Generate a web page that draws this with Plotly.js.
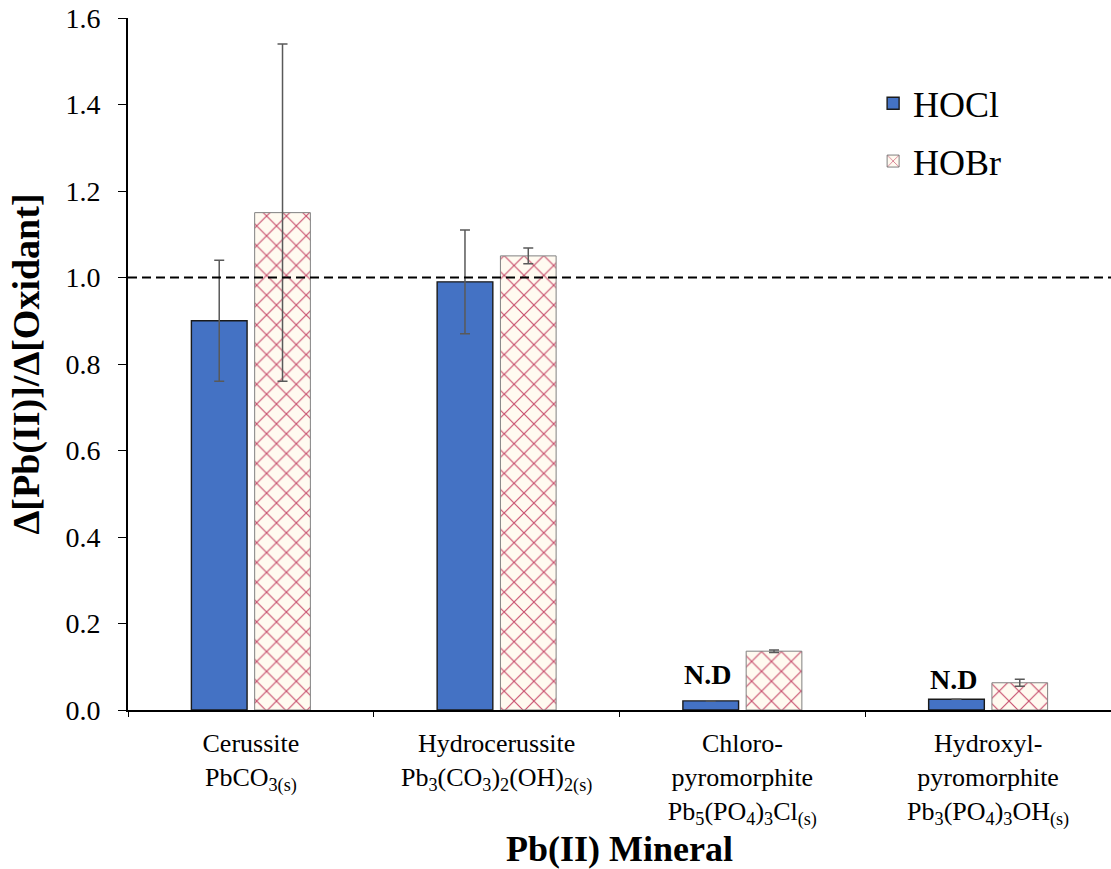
<!DOCTYPE html>
<html><head><meta charset="utf-8">
<script src="https://cdn.plot.ly/plotly-3.0.1.min.js"></script>
<style>body{margin:0;background:#fff}#chart{width:1111px;height:869px}</style>
</head><body><div id="chart"></div>
<script>
const categories = ["Cerussite", "Hydrocerussite", "Chloropyromorphite", "Hydroxylpyromorphite"];
const tickLabels = [
  "Cerussite<br>PbCO<sub>3(s)</sub>",
  "Hydrocerussite<br>Pb<sub>3</sub>(CO<sub>3</sub>)<sub>2</sub>(OH)<sub>2(s)</sub>",
  "Chloro-<br>pyromorphite<br>Pb<sub>5</sub>(PO<sub>4</sub>)<sub>3</sub>Cl<sub>(s)</sub>",
  "Hydroxyl-<br>pyromorphite<br>Pb<sub>3</sub>(PO<sub>4</sub>)<sub>3</sub>OH<sub>(s)</sub>"
];
const hoclValues = [0.90, 0.99, 0.021, 0.025];
const hoclErrors = [0.14, 0.12, 0, 0];
const hobrValues = [1.15, 1.05, 0.136, 0.063];
const hobrErrors = [0.39, 0.018, 0.003, 0.008];
const ndCategories = ["Chloropyromorphite", "Hydroxylpyromorphite"];
const ndLabelY = [0.082, 0.071];
const referenceLine = 1.0;

const serif = "Liberation Serif";
const traces = [
  {type: "bar", name: "HOCl", x: categories, y: hoclValues, legendgroup: "a",
   marker: {color: "#4472C4", line: {color: "#1a1a1a", width: 1.4}},
   error_y: {type: "data", array: hoclErrors, visible: true, color: "#595959", thickness: 1.5, width: 5}},
  {type: "bar", name: "HOBr", x: categories, y: hobrValues, legendgroup: "b",
   marker: {color: "#fffaf0", line: {color: "#808080", width: 1},
            pattern: {shape: "x", fgcolor: "#c8506e", bgcolor: "#fffaf0", size: 14, solidity: 0.16}},
   error_y: {type: "data", array: hobrErrors, visible: true, color: "#595959", thickness: 1.5, width: 5}}
];
const layout = {
  width: 1111, height: 869,
  margin: {l: 128, r: 0, t: 18, b: 159},
  paper_bgcolor: "#fff", plot_bgcolor: "#fff",
  barmode: "group", bargap: 0.485, bargroupgap: 0.12,
  font: {family: serif, color: "#000"},
  showlegend: true,
  legend: {x: 0.758, y: 0.92, xanchor: "left", yanchor: "top", font: {size: 36, family: serif, color: "#000"},
           bgcolor: "rgba(0,0,0,0)", tracegroupgap: 8, traceorder: "grouped"},
  xaxis: {type: "category", tickmode: "array", tickvals: categories, ticktext: tickLabels,
          tickfont: {size: 26, family: serif, color: "#000"}, showline: true, linecolor: "#000", linewidth: 2,
          ticks: "outside", tickson: "boundaries", ticklen: 5, tickcolor: "#000", tickwidth: 1,
          ticklabelstandoff: 9,
          showgrid: false, zeroline: false,
          title: {text: "<b>Pb(II) Mineral</b>", font: {size: 36, family: serif, color: "#000"}, standoff: 8}},
  yaxis: {range: [0, 1.6], dtick: 0.2, tickformat: ".1f", tickfont: {size: 28, family: serif, color: "#000"},
          showline: true, linecolor: "#000", linewidth: 2, ticks: "outside", ticklen: 8,
          ticklabelstandoff: 12,
          tickcolor: "#000", showgrid: false, zeroline: false,
          title: {text: "<b>Δ[Pb(II)]/Δ[Oxidant]</b>", font: {size: 38, family: serif, color: "#000"}, standoff: 14}},
  shapes: [{type: "line", xref: "paper", x0: 0, x1: 1, yref: "y", y0: referenceLine, y1: referenceLine,
            line: {color: "#000", width: 2, dash: "9px,5px"}}],
  annotations: ndCategories.map((c, i) => ({x: c, y: ndLabelY[i], xref: "x", yref: "y", text: "<b>N.D</b>",
    showarrow: false, xshift: -35, font: {size: 28, family: serif, color: "#000"}}))
};
Plotly.newPlot("chart", traces, layout, {displayModeBar: false});
</script></body></html>
